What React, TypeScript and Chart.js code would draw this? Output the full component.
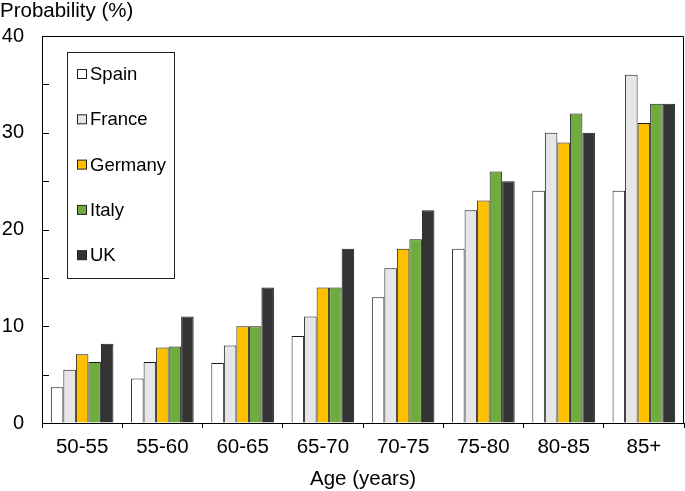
import React, { useEffect, useRef } from "react";
import { Chart, registerables } from "chart.js";

Chart.register(...registerables);

const categories = ["50-55", "55-60", "60-65", "65-70", "70-75", "75-80", "80-85", "85+"];
const spain = [3.7, 4.6, 6.2, 9, 13, 18, 24, 24];
const france = [5.5, 6.3, 8, 11, 16, 22, 30, 36];
const germany = [7.1, 7.8, 10, 14, 18, 23, 29, 31];
const italy = [6.3, 7.9, 10, 14, 19, 26, 32, 33];
const uk = [8.2, 11, 14, 18, 22, 25, 30, 33];
const seriesNames = ["Spain", "France", "Germany", "Italy", "UK"];
const seriesColors = ["#ffffff", "#e6e6e6", "#ffc000", "#6fab3f", "#333333"];
const yTickLabels = [0, 10, 20, 30, 40];

const FONT = "'Liberation Sans', Arial, sans-serif";

const framePlugin = {
  id: "frameAndLegend",
  afterDraw(chart: any) {
    const { ctx, chartArea } = chart;
    const yScale = chart.scales.y;
    ctx.save();
    ctx.strokeStyle = "#000";
    ctx.lineWidth = 1;
    // frame top and right
    ctx.beginPath();
    ctx.moveTo(chartArea.left, chartArea.top + 0.5);
    ctx.lineTo(chartArea.right - 0.5, chartArea.top + 0.5);
    ctx.lineTo(chartArea.right - 0.5, chartArea.bottom);
    ctx.stroke();
    // inward y ticks
    ctx.beginPath();
    yScale.ticks.forEach((t: any) => {
      const py = Math.round(yScale.getPixelForValue(t.value)) + 0.5;
      ctx.moveTo(chartArea.left, py);
      ctx.lineTo(chartArea.left + 7, py);
    });
    ctx.stroke();
    // y title
    ctx.fillStyle = "#000";
    ctx.font = `20.5px ${FONT}`;
    ctx.textBaseline = "alphabetic";
    ctx.textAlign = "left";
    ctx.fillText("Probability (%)", 0, 16.5);
    // legend box
    const bx = chartArea.left + 25;
    const by = chartArea.top + 16;
    const bw = 107;
    const bh = 226;
    ctx.strokeStyle = "#222";
    ctx.strokeRect(bx + 0.5, by + 0.5, bw, bh);
    ctx.font = `18.5px ${FONT}`;
    ctx.textBaseline = "middle";
    chart.data.datasets.forEach((ds: any, i: number) => {
      const cy = by + 22 + i * 45.3;
      ctx.fillStyle = ds.backgroundColor;
      ctx.fillRect(bx + 10.5, cy - 4.5, 9, 9);
      ctx.strokeStyle = "#222";
      ctx.strokeRect(bx + 10.5, cy - 4.5, 9, 9);
      ctx.fillStyle = "#000";
      ctx.fillText(ds.label, bx + 23, cy + 1);
    });
    ctx.restore();
  },
};

export default function App() {
  const ref = useRef<HTMLCanvasElement | null>(null);
  useEffect(() => {
    document.body.style.margin = "0";
    const series = [spain, france, germany, italy, uk];
    const chart = new Chart(ref.current!, {
      type: "bar",
      data: {
        labels: categories,
        datasets: series.map((d, i) => ({
          label: seriesNames[i],
          data: d,
          backgroundColor: seriesColors[i],
          borderColor: "#1a1a1a",
          borderWidth: 1,
          categoryPercentage: 0.78,
          barPercentage: 1,
        })),
      },
      options: {
        animation: false,
        responsive: false,
        maintainAspectRatio: false,
        layout: { padding: { top: 36, right: 1, left: 0, bottom: 0 } },
        plugins: { legend: { display: false }, tooltip: { enabled: false }, title: { display: false } },
        scales: {
          x: {
            offset: true,
            grid: { display: true, drawOnChartArea: false, drawTicks: true, tickLength: 5, color: "#000", offset: true },
            border: { display: true, color: "#000", width: 1 },
            ticks: { color: "#000", font: { family: FONT, size: 20.5 }, padding: 7 },
            title: { display: true, text: "Age (years)", color: "#000", font: { family: FONT, size: 20.5 }, padding: { top: 4, bottom: -1 } },
            afterFit: (s: any) => { s.height = 68; },
          },
          y: {
            min: 0,
            max: 40,
            ticks: {
              stepSize: 5,
              color: "#000",
              font: { family: FONT, size: 20 },
              padding: 18,
              callback: (v: any) => (yTickLabels.includes(Number(v)) ? String(v) : ""),
            },
            grid: { display: true, drawOnChartArea: false, drawTicks: false, color: "#000" },
            border: { display: true, color: "#000", width: 1 },
            afterFit: (s: any) => { s.width = 42; },
          },
        },
      },
      plugins: [framePlugin],
    });
    return () => chart.destroy();
  }, []);
  return (
    <div style={{ width: 685, height: 491 }}>
      <canvas ref={ref} width={685} height={491} style={{ width: 685, height: 491 }} />
    </div>
  );
}
